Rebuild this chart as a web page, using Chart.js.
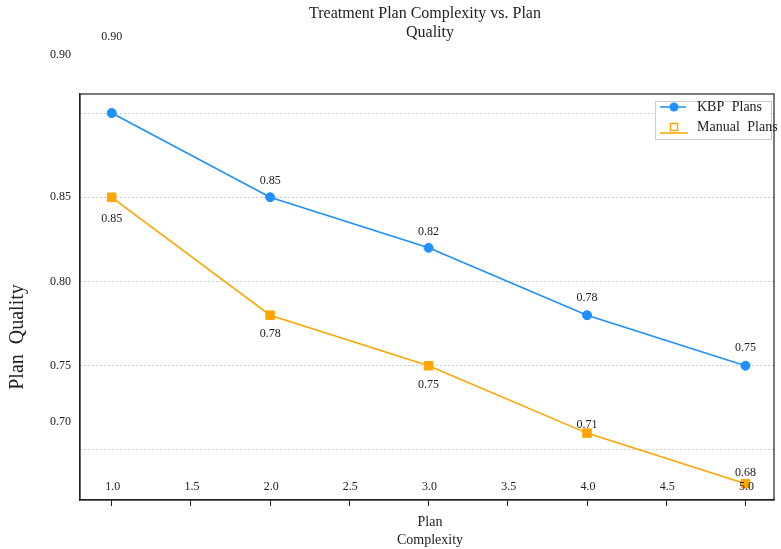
<!DOCTYPE html>
<html lang="en">
<head>
    <meta charset="UTF-8">
    <title>Treatment Plan Complexity vs. Plan Quality</title>
    <script src="https://cdn.jsdelivr.net/npm/chart.js"></script>
    <style>
        body { margin: 0; padding: 0; background: white; }
        .chart-box { width: 781px; height: 549px; }
    </style>
</head>
<body>
    <div class="chart-box">
        <canvas id="qualityChart" width="781" height="549"></canvas>
    </div>

    <script>
        // data
        const complexity = [1, 2, 3, 4, 5];
        const kbpQuality = [0.90, 0.85, 0.82, 0.78, 0.75];
        const manualQuality = [0.85, 0.78, 0.75, 0.71, 0.68];
        const xTicks = [1.0, 1.5, 2.0, 2.5, 3.0, 3.5, 4.0, 4.5, 5.0];
        const yTicks = [0.70, 0.75, 0.80, 0.85, 0.90];

        // label nudges (pixels), to match the odd placement in the original
        const kbpLabelDy = [-76, -16, -16, -17, -18];
        const manualLabelDy = [22, 19, 19, -8, -11];
        const yTickLabelDy = [-28, 0, 0, 0, -58];

        const BLUE = '#1E90FF';
        const ORANGE = '#FFA500';
        const SERIF = '"Liberation Serif", "DejaVu Serif", serif';
        const TEXT = '#222';

        const decorations = {
            id: 'decorations',
            afterDraw(chart) {
                const ctx = chart.ctx;
                const area = chart.chartArea;
                const x = chart.scales.x;
                const y = chart.scales.y;
                ctx.save();

                // frame
                ctx.strokeStyle = '#222';
                ctx.lineWidth = 1.2;
                ctx.strokeRect(area.left, area.top, area.right - area.left, area.bottom - area.top);

                ctx.fillStyle = TEXT;
                ctx.font = '12px ' + SERIF;
                ctx.textBaseline = 'middle';

                // y tick labels
                ctx.textAlign = 'right';
                yTicks.forEach((v, i) => {
                    ctx.fillText(v.toFixed(2), 71, y.getPixelForValue(v) + yTickLabelDy[i]);
                });

                // x tick labels sit inside the plot, just above the axis
                ctx.textAlign = 'center';
                xTicks.forEach(v => {
                    ctx.fillText(v.toFixed(1), x.getPixelForValue(v) + 1, area.bottom - 13);
                });

                // value labels
                complexity.forEach((c, i) => {
                    const px = x.getPixelForValue(c);
                    ctx.fillText(manualQuality[i].toFixed(2), px, y.getPixelForValue(manualQuality[i]) + manualLabelDy[i]);
                    ctx.fillText(kbpQuality[i].toFixed(2), px, y.getPixelForValue(kbpQuality[i]) + kbpLabelDy[i]);
                });

                // title
                const cx = (area.left + area.right) / 2;
                ctx.font = '16px ' + SERIF;
                ctx.fillText('Treatment Plan Complexity vs. Plan', cx - 2, 14);
                ctx.fillText('Quality', cx + 3, 33);

                // axis titles
                ctx.font = '14px ' + SERIF;
                ctx.fillText('Plan', cx + 3, 522);
                ctx.fillText('Complexity', cx + 3, 540);

                ctx.save();
                ctx.translate(18, 337);
                ctx.rotate(-Math.PI / 2);
                ctx.font = '20px ' + SERIF;
                ctx.fillText('Plan  Quality', 0, 0);
                ctx.restore();

                // legend
                ctx.fillStyle = 'white';
                ctx.fillRect(655, 101, 116, 38);
                ctx.strokeStyle = '#ccc';
                ctx.lineWidth = 1;
                ctx.strokeRect(655.5, 101.5, 116, 38);

                ctx.strokeStyle = BLUE;
                ctx.lineWidth = 1.5;
                ctx.beginPath();
                ctx.moveTo(660, 107);
                ctx.lineTo(686, 107);
                ctx.stroke();
                ctx.fillStyle = BLUE;
                ctx.beginPath();
                ctx.arc(674, 107, 4.5, 0, Math.PI * 2);
                ctx.fill();

                ctx.strokeStyle = ORANGE;
                ctx.beginPath();
                ctx.moveTo(660, 133);
                ctx.lineTo(688, 133);
                ctx.stroke();
                ctx.strokeRect(670.5, 123.5, 7, 7);

                ctx.fillStyle = TEXT;
                ctx.textAlign = 'left';
                ctx.font = '14px ' + SERIF;
                ctx.wordSpacing = '4px';
                ctx.fillText('KBP Plans', 697, 107);
                ctx.fillText('Manual Plans', 697, 127);

                ctx.restore();
            }
        };

        const ctx = document.getElementById('qualityChart').getContext('2d');
        const chart = new Chart(ctx, {
            type: 'line',
            data: {
                datasets: [
                    {
                        label: 'KBP Plans',
                        data: complexity.map((c, i) => ({ x: c, y: kbpQuality[i] })),
                        borderColor: BLUE,
                        backgroundColor: BLUE,
                        borderWidth: 1.6,
                        pointStyle: 'circle',
                        pointRadius: 4.5,
                        pointBorderWidth: 1,
                        fill: false
                    },
                    {
                        label: 'Manual Plans',
                        data: complexity.map((c, i) => ({ x: c, y: manualQuality[i] })),
                        borderColor: ORANGE,
                        backgroundColor: ORANGE,
                        borderWidth: 1.6,
                        pointStyle: 'rect',
                        pointRadius: 6,
                        pointBorderWidth: 1,
                        fill: false
                    }
                ]
            },
            options: {
                responsive: false,
                animation: false,
                layout: { padding: { top: 94, right: 4, left: 0, bottom: 0 } },
                plugins: {
                    legend: { display: false },
                    title: { display: false },
                    tooltip: { enabled: false }
                },
                scales: {
                    x: {
                        type: 'linear',
                        min: 0.8,
                        max: 5.18,
                        afterBuildTicks: s => { s.ticks = xTicks.map(v => ({ value: v })); },
                        afterFit: s => { s.height = 49; },
                        ticks: { display: false },
                        grid: { drawOnChartArea: false, drawTicks: true, tickLength: 6, color: '#222' },
                        border: { display: true, color: '#222', width: 1.2 }
                    },
                    y: {
                        type: 'linear',
                        min: 0.6703,
                        max: 0.9113,
                        afterBuildTicks: s => { s.ticks = yTicks.map(v => ({ value: v })); },
                        afterFit: s => { s.width = 80; },
                        ticks: { display: false },
                        grid: { drawTicks: false, color: '#bbb', lineWidth: 0.8 },
                        border: { display: true, color: '#222', width: 1.2, dash: [2, 2] }
                    }
                }
            },
            plugins: [decorations]
        });
    </script>
</body>
</html>
